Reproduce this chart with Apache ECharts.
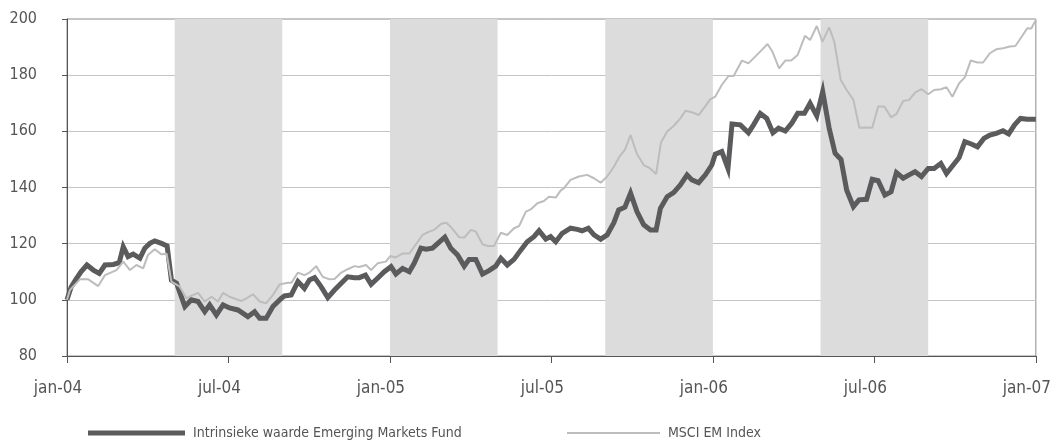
<!DOCTYPE html>
<html>
<head>
<meta charset="utf-8">
<script src="https://cdn.jsdelivr.net/npm/echarts@6/dist/echarts.min.js"></script>
<style>
html,body{margin:0;padding:0;background:#fff;}
#chart{width:1054px;height:443px;}
</style>
</head>
<body>
<div id="chart"></div>
<script>
// x positions are months since jan-2004
const xTickLabels = ['jan-04','jul-04','jan-05','jul-05','jan-06','jul-06','jan-07'];
const shadedPeriods = [[4, 8], [12, 16], [20, 24], [28, 32]];

const fundName = 'Intrinsieke waarde Emerging Markets Fund';
const msciName = 'MSCI EM Index';

const fundMonths = [0.00,0.15,0.33,0.52,0.74,0.98,1.20,1.41,1.72,1.94,2.09,2.27,2.46,2.71,2.89,3.08,3.26,3.51,3.72,3.88,4.07,4.38,4.62,4.87,5.12,5.30,5.55,5.80,6.04,6.35,6.72,6.97,7.16,7.40,7.65,7.96,8.08,8.33,8.58,8.82,9.01,9.20,9.44,9.69,9.94,10.19,10.43,10.68,10.86,11.09,11.30,11.54,11.79,12.04,12.22,12.47,12.72,12.90,13.15,13.34,13.58,13.80,14.04,14.26,14.51,14.76,14.94,15.19,15.44,15.68,15.93,16.12,16.36,16.61,16.86,17.10,17.35,17.54,17.79,17.97,18.16,18.40,18.71,18.96,19.14,19.37,19.58,19.83,20.07,20.32,20.50,20.73,20.94,21.18,21.43,21.68,21.89,22.05,22.30,22.54,22.79,23.04,23.22,23.47,23.72,23.96,24.09,24.33,24.56,24.71,25.02,25.32,25.51,25.76,26.00,26.23,26.44,26.69,26.93,27.15,27.40,27.61,27.86,28.08,28.32,28.54,28.76,28.97,29.22,29.43,29.71,29.92,30.14,30.39,30.62,30.82,31.07,31.29,31.51,31.75,32.00,32.22,32.47,32.68,32.93,33.15,33.36,33.60,33.83,34.07,34.29,34.53,34.78,34.99,35.21,35.43,35.68,36.00];
const fundValues = [100,104.5,107.3,110,112.4,110.6,109.4,112.4,112.6,113.2,118.9,115.4,116.3,114.8,118.4,120.1,121,120.1,119.2,107,105.9,97.6,100,99.4,95.8,98.2,94.6,98.2,97.1,96.4,94,95.8,93.4,93.4,97.6,100.5,101.4,101.7,106.5,104.1,107.1,107.9,104.7,100.8,103.5,105.9,108.2,107.9,107.9,108.8,105.5,107.7,110,111.8,109.2,111.2,110,113,118.4,118,118.4,120.3,122.3,118.4,116,112,114.4,114.4,109.2,110.4,112,114.8,112.4,114.4,117.7,120.7,122.5,124.6,121.6,122.5,120.7,123.7,125.5,125.1,124.6,125.5,123.1,121.6,123.1,127.5,132,133,138,131.4,126.7,124.9,124.9,132.6,136.7,138.2,140.9,144.5,142.7,141.7,144.5,148,151.9,152.8,146.8,162.6,162.3,159.5,162.3,166.4,164.6,159.5,161.1,160.1,162.9,166.4,166.4,170,165.5,174.1,161.1,152.2,150,139.1,133.2,135.6,135.8,142.9,142.4,137.3,138.5,145.3,143.3,144.5,145.6,143.9,146.8,146.8,148.6,145,148,150.7,156.3,155.5,154.5,157.5,158.7,159.3,160.2,159.1,162.3,164.6,164.3,164.3];

const msciMonths = [0.00,0.11,0.48,0.79,1.16,1.41,1.84,2.09,2.34,2.58,2.83,3.01,3.26,3.51,3.70,3.88,4.19,4.44,4.63,4.87,5.12,5.37,5.61,5.80,6.04,6.27,6.48,6.67,6.91,7.16,7.40,7.65,7.90,8.21,8.34,8.58,8.82,9.01,9.26,9.50,9.75,9.94,10.19,10.43,10.68,10.86,11.11,11.30,11.54,11.85,12.01,12.22,12.47,12.72,12.90,13.21,13.46,13.64,13.89,14.08,14.26,14.57,14.76,15.01,15.19,15.44,15.62,15.87,16.12,16.36,16.61,16.80,17.05,17.23,17.48,17.72,17.91,18.16,18.34,18.46,18.71,19.02,19.33,19.58,19.83,20.07,20.32,20.54,20.73,20.94,21.18,21.43,21.64,21.89,22.07,22.30,22.54,22.79,22.98,23.22,23.47,23.72,23.90,24.09,24.33,24.58,24.77,25.08,25.32,25.57,25.82,26.03,26.21,26.46,26.69,26.91,27.15,27.42,27.61,27.86,28.07,28.32,28.51,28.75,28.97,29.22,29.44,29.65,29.92,30.14,30.37,30.62,30.82,31.07,31.29,31.52,31.75,32.00,32.22,32.47,32.68,32.90,33.15,33.36,33.58,33.83,34.04,34.29,34.53,34.78,35.03,35.24,35.46,35.68,35.83,36.00];
const msciValues = [100,103.5,107.3,107.3,104.9,108.8,110.6,113.6,110.6,112.4,111.2,116,118,116.2,116.4,106.5,104.7,100.5,101.5,102.5,99.4,101.1,99.4,102.5,101.1,100.3,99.6,100.5,102,99.4,98.8,101.7,105.5,106.1,106.1,109.7,108.8,109.7,112,108.2,107.3,107.4,109.7,110.9,112,111.7,112.4,110.6,113,113.6,115.6,115.1,116.5,116.5,118.9,123.1,124.3,124.9,127,127.5,126,122.3,122.2,124.9,124.3,119.8,119.2,119.2,123.9,123.1,125.5,126.3,131.4,132.2,134.4,135.2,136.7,136.4,138.9,139.7,142.7,143.9,144.5,143.3,141.7,143.9,147.4,151.2,153.4,158.7,151.9,148,147,144.8,156,159.9,161.9,164.6,167.3,166.8,165.8,169,171.4,172.4,176.5,179.7,179.7,185.2,184.2,186.6,189,191.1,188.4,182.4,185.2,185.2,187.2,194,192.5,197.5,191.9,197,191.9,178.3,174.7,171.2,161.3,161.4,161.3,168.8,168.8,165,166.2,170.8,171.2,173.9,175,173.2,174.7,175,175.7,172.3,177.1,179.2,185.2,184.5,184.5,187.8,189.2,189.6,190.2,190.4,193.5,196.7,196.6,199.7];

const FONT = "'DejaVu Sans Condensed','Liberation Sans Narrow',sans-serif";
const TEXT = '#555555';

function zip(xs, ys) { return xs.map((x, i) => [x, ys[i]]); }

const chart = echarts.init(document.getElementById('chart'), null, {renderer: 'canvas'});
chart.setOption({
  animation: false,
  backgroundColor: '#ffffff',
  textStyle: {fontFamily: FONT},
  grid: {left: 67, right: 16, top: 19, bottom: 87, show: true, borderColor: '#8c8c8c', borderWidth: 1, backgroundColor: 'transparent'},
  legend: [
    {
      data: [{name: fundName, icon: 'rect'}],
      left: 88, top: 426, padding: 0, itemWidth: 97, itemHeight: 5,
      textStyle: {color: TEXT, fontSize: 14, fontFamily: FONT, padding: [0, 0, 0, 3]},
      selectedMode: false
    },
    {
      data: [{name: msciName, icon: 'rect'}],
      left: 567, top: 426, padding: 0, itemWidth: 93, itemHeight: 2,
      textStyle: {color: TEXT, fontSize: 14, fontFamily: FONT, padding: [0, 0, 0, 3]},
      selectedMode: false
    }
  ],
  xAxis: {
    type: 'value', min: 0, max: 36, interval: 6,
    axisLine: {show: true, lineStyle: {color: '#555555', width: 1}},
    axisTick: {show: true, length: 7, lineStyle: {color: '#555555'}},
    splitLine: {show: false},
    axisLabel: {
      color: TEXT, fontSize: 17, fontFamily: FONT, margin: 24,
      padding: [0, 18, 0, 0],
      formatter: v => xTickLabels[Math.round(v / 6)]
    }
  },
  yAxis: {
    type: 'value', min: 80, max: 200, interval: 20,
    axisLine: {show: true, lineStyle: {color: '#555555', width: 1}},
    axisTick: {show: true, length: 5, lineStyle: {color: '#555555'}},
    splitLine: {show: true, lineStyle: {color: '#c4c4c4', width: 1}},
    axisLabel: {color: TEXT, fontSize: 16, fontFamily: FONT, margin: 30}
  },
  series: [
    {
      name: 'bands', type: 'line', data: [], z: 1, silent: true,
      markArea: {
        silent: true,
        itemStyle: {color: '#dcdcdc'},
        data: shadedPeriods.map(p => [{xAxis: p[0]}, {xAxis: p[1]}])
      }
    },
    {
      name: fundName, type: 'line', data: zip(fundMonths, fundValues), z: 3,
      showSymbol: false, symbol: 'none',
      lineStyle: {color: '#5b5b5d', width: 5, join: 'miter'},
      itemStyle: {color: '#5b5b5d'}
    },
    {
      name: msciName, type: 'line', data: zip(msciMonths, msciValues), z: 4,
      showSymbol: false, symbol: 'none',
      lineStyle: {color: '#bdbdbd', width: 2},
      itemStyle: {color: '#bdbdbd'}
    }
  ]
});
</script>
</body>
</html>
